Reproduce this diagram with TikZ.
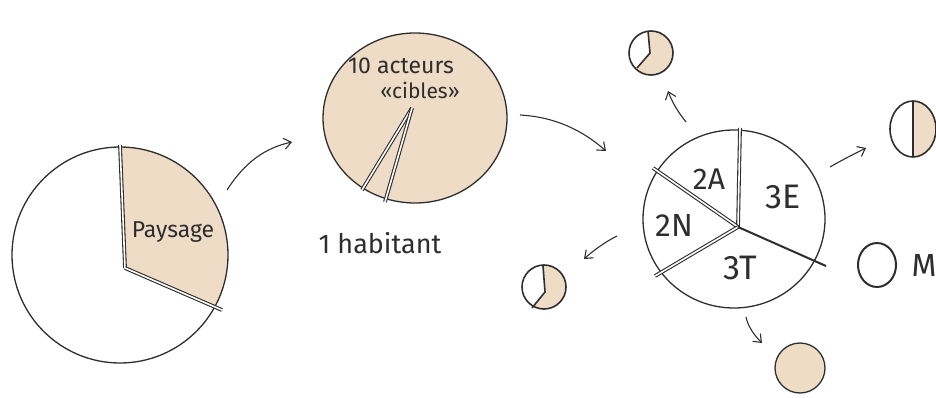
\documentclass[tikz,border=0pt]{standalone}
\usepackage{fontspec}
\setmainfont{Fira Sans}
\usetikzlibrary{arrows.meta,shapes.geometric}
\definecolor{ink}{HTML}{2E2E2E}
\definecolor{beige}{HTML}{EEDCC6}
\tikzset{
  pen/.style={draw=ink, line width=1.3pt},
  cut/.style={draw=ink, line width=1.1pt, double=white, double distance=1.6pt},
  flow/.style={draw=ink, line width=1.1pt, -{Straight Barb[length=7pt,width=11pt]}},
  lbl/.style={text=ink, inner sep=0pt}
}
\begin{document}
\begin{tikzpicture}[x=1pt,y=-1pt]
\useasboundingbox (0,0) rectangle (936,398);
% ---------- pie 1 : Paysage ----------
\coordinate (c1) at (120,255);
\coordinate (v1) at (125,268);
\coordinate (t1) at (120,145);
\coordinate (r1) at (222,310);
\begin{scope}
  \clip (v1) -- (117,80) -- (300,80) -- (300,340) -- (272,332) -- cycle;
  \fill[beige] (c1) circle (108pt);
\end{scope}
\draw[pen] (c1) circle (108pt);
\draw[cut] (v1) -- (t1);
\draw[cut] (v1) -- (r1);
\node[lbl, font=\fontsize{23}{25}\selectfont] (paysage) at (173,232) {Paysage};
% ---------- pie 2 : 10 acteurs ----------
\node[pen, fill=beige, ellipse, minimum width=184pt, minimum height=170pt, inner sep=0pt] (p2) at (415,118) {};
\coordinate (v2) at (412,108);
\draw[cut] (v2) -- (362,190);
\draw[cut] (v2) -- (385,202);
\node[lbl, font=\fontsize{23}{25}\selectfont] (acteurs) at (401,66) {10 acteurs};
\node[lbl, font=\fontsize{21}{23}\selectfont] (cibles) at (420,90) {«cibles»};
\node[lbl, font=\fontsize{27}{29}\selectfont] (habitant) at (380,243) {1 habitant};
% ---------- pie 3 : central ----------
\coordinate (c3) at (734,219);
\draw[pen] (c3) ellipse (91pt and 89pt);
\coordinate (v3) at (738,227);
\draw[cut] (v3) -- (740,128);
\draw[cut] (v3) -- (653,168);
\draw[cut] (v3) -- (655,276);
\draw[draw=ink, line width=2pt] (v3) -- (826,266);
\node[lbl, font=\fontsize{30}{32}\selectfont] (s2a) at (709,179) {2A};
\node[lbl, font=\fontsize{34}{36}\selectfont] (s3e) at (783,197) {3E};
\node[lbl, font=\fontsize{32}{34}\selectfont] (s2n) at (674,225) {2N};
\node[lbl, font=\fontsize{34}{36}\selectfont] (s3t) at (740,268) {3T};
% ---------- small pie : top (2A) ----------
\coordinate (ca) at (651,53);
\coordinate (va) at (650,53);
\fill[beige] (ca) circle (22pt);
\begin{scope}
  \clip (ca) circle (22pt);
  \fill[white] (va) -- (647,18) -- (610,18) -- (610,90) -- (632,76) -- cycle;
\end{scope}
\draw[pen, line width=1.6pt] (ca) circle (22pt);
\draw[pen, line width=1.6pt] (648,31) -- (va) -- (637,68);
% ---------- small pie : bottom-left (2N) ----------
\coordinate (cb) at (544,287);
\coordinate (vb) at (545,292);
\fill[beige] (cb) circle (22pt);
\begin{scope}
  \clip (cb) circle (22pt);
  \fill[white] (vb) -- (542,255) -- (505,255) -- (505,325) -- (527,316) -- cycle;
\end{scope}
\draw[pen, line width=1.6pt] (cb) circle (22pt);
\draw[pen, line width=1.6pt] (543,266) -- (vb) -- (532,308);
% ---------- small pie : right (3E) ----------
\coordinate (cc) at (913,129);
\begin{scope}
  \clip (cc) ellipse (23pt and 28pt);
  \fill[beige] (913,90) rectangle (945,170);
\end{scope}
\draw[pen, line width=1.6pt] (cc) ellipse (23pt and 28pt);
\draw[pen, line width=1.6pt] (913,101) -- (913,157);
% ---------- small circle : M ----------
\node[pen, line width=2pt, ellipse, minimum width=38pt, minimum height=44pt, inner sep=0pt] (m) at (877,265) {};
\node[lbl, font=\fontsize{32}{34}\selectfont] (mlbl) at (924,265) {M};
% ---------- small circle : bottom (3T) ----------
\node[pen, fill=beige, circle, minimum size=50pt, inner sep=0pt] (cd) at (800,368) {};
% ---------- arrows ----------
\coordinate (a1s) at (227,190);
\coordinate (a1e) at (292,142);
\draw[flow] (a1s) .. controls (245,162) and (265,148) .. (a1e);
\coordinate (a2s) at (520,115);
\coordinate (a2e) at (606,151);
\draw[flow] (a2s) .. controls (555,117) and (582,130) .. (a2e);
\coordinate (a3s) at (686,122);
\coordinate (a3e) at (668,91);
\draw[flow] (a3s) .. controls (678,112) and (672,102) .. (a3e);
\coordinate (a4s) at (830,167);
\coordinate (a4e) at (866,148);
\draw[flow] (a4s) .. controls (842,160) and (854,154) .. (a4e);
\coordinate (a5s) at (617,236);
\coordinate (a5e) at (584,259);
\draw[flow] (a5s) .. controls (605,242) and (594,250) .. (a5e);
\coordinate (a6s) at (746,317);
\coordinate (a6e) at (762,343);
\draw[flow] (a6s) .. controls (748,327) and (755,336) .. (a6e);
\end{tikzpicture}
\end{document}
